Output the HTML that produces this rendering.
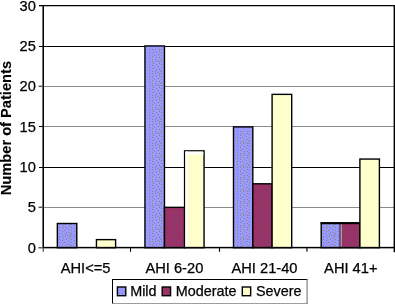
<!DOCTYPE html>
<html><head><meta charset="utf-8"><title>Chart</title>
<style>html,body{margin:0;padding:0;background:#fff;}body{width:395px;height:304px;overflow:hidden;}svg{display:block;}text{font-family:"Liberation Sans",Arial,sans-serif;font-size:14px;fill:#000;stroke:#000;stroke-width:0.25px;}.ax{font-size:14.67px;}.lg{font-size:14.4px;}.ti{font-size:14.67px;font-weight:bold;stroke-width:0.1px;}</style>
</head><body>
<svg width="395" height="304" viewBox="0 0 395 304">
<defs>
<g id="dt"><rect x="0" y="0" width="1" height="1"/><rect x="3" y="0" width="1" height="1"/><rect x="6" y="0" width="1" height="1"/><rect x="10" y="0" width="1" height="1"/><rect x="4" y="2" width="1" height="1"/><rect x="10" y="2" width="1" height="1"/><rect x="0" y="3" width="1" height="1"/><rect x="7" y="3" width="1" height="1"/><rect x="3" y="4" width="1" height="1"/><rect x="9" y="5" width="1" height="1"/><rect x="0" y="6" width="1" height="1"/><rect x="5" y="6" width="1" height="1"/><rect x="3" y="7" width="1" height="1"/><rect x="7" y="8" width="1" height="1"/><rect x="10" y="8" width="1" height="1"/><rect x="0" y="9" width="1" height="1"/><rect x="3" y="10" width="1" height="1"/><rect x="11" y="10" width="1" height="1"/><rect x="6" y="10" width="1" height="1"/><rect x="8" y="11" width="1" height="1"/></g>
<g id="mt"><rect x="2" y="1" width="1" height="1"/><rect x="8" y="3" width="1" height="1"/><rect x="5" y="5" width="1" height="1"/><rect x="11" y="6" width="1" height="1"/><rect x="1" y="8" width="1" height="1"/><rect x="7" y="10" width="1" height="1"/><rect x="4" y="11" width="1" height="1"/><rect x="10" y="0" width="1" height="1"/></g>
</defs>
<rect width="395" height="304" fill="#fff"/>
<line x1="43.25" y1="5.65" x2="394.3" y2="5.65" stroke="#000" stroke-width="1.3"/>
<line x1="43.25" y1="46.5" x2="394.3" y2="46.5" stroke="#000" stroke-width="1.05"/>
<line x1="43.25" y1="86.5" x2="394.3" y2="86.5" stroke="#8c8c8c" stroke-width="1.0"/>
<line x1="43.25" y1="126.5" x2="394.3" y2="126.5" stroke="#8c8c8c" stroke-width="1.0"/>
<line x1="43.25" y1="167.5" x2="394.3" y2="167.5" stroke="#000" stroke-width="1.05"/>
<line x1="43.25" y1="207.5" x2="394.3" y2="207.5" stroke="#8c8c8c" stroke-width="1.0"/>
<rect x="57.35" y="223.49" width="19.45" height="24.21" fill="#9999ff"/>
<pattern id="p1" x="59" y="224" width="12" height="12" patternUnits="userSpaceOnUse"><use href="#dt" fill="#84846c"/></pattern>
<rect x="59" y="224" width="16.60" height="22.70" fill="url(#p1)"/>
<rect x="57.35" y="223.49" width="19.45" height="24.21" fill="none" stroke="#000" stroke-width="1.4"/>
<rect x="96.45" y="239.63" width="19.15" height="8.07" fill="#ffffcc"/>
<rect x="96.45" y="239.63" width="19.15" height="8.07" fill="none" stroke="#000" stroke-width="1.4"/>
<rect x="144.95" y="45.95" width="19.50" height="201.75" fill="#9999ff"/>
<pattern id="p2" x="149" y="49" width="12" height="12" patternUnits="userSpaceOnUse"><use href="#dt" fill="#84846c"/></pattern>
<rect x="149" y="49" width="14.25" height="197.70" fill="url(#p2)"/>
<rect x="144.95" y="45.95" width="19.50" height="201.75" fill="none" stroke="#000" stroke-width="1.4"/>
<rect x="164.45" y="207.35" width="20.15" height="40.35" fill="#993366"/>
<pattern id="p3" x="167" y="211" width="12" height="12" patternUnits="userSpaceOnUse"><use href="#mt" fill="#5f52a0"/></pattern>
<rect x="167" y="211" width="16.10" height="35.70" fill="url(#p3)"/>
<rect x="164.45" y="207.35" width="20.15" height="40.35" fill="none" stroke="#000" stroke-width="1.4"/>
<rect x="184.60" y="150.86" width="19.45" height="96.84" fill="#ffffcc"/>
<rect x="184.60" y="150.86" width="19.45" height="96.84" fill="none" stroke="#000" stroke-width="1.4"/>
<rect x="233.50" y="126.90" width="19.30" height="120.80" fill="#9999ff"/>
<pattern id="p4" x="237" y="131" width="12" height="12" patternUnits="userSpaceOnUse"><use href="#dt" fill="#84846c"/></pattern>
<rect x="237" y="131" width="14.60" height="115.70" fill="url(#p4)"/>
<rect x="233.50" y="126.90" width="19.30" height="120.80" fill="none" stroke="#000" stroke-width="1.4"/>
<rect x="252.80" y="183.80" width="19.30" height="63.90" fill="#993366"/>
<pattern id="p5" x="256" y="188" width="12" height="12" patternUnits="userSpaceOnUse"><use href="#mt" fill="#5f52a0"/></pattern>
<rect x="256" y="188" width="14.60" height="58.70" fill="url(#p5)"/>
<rect x="252.80" y="183.80" width="19.30" height="63.90" fill="none" stroke="#000" stroke-width="1.4"/>
<rect x="272.10" y="94.37" width="19.60" height="153.33" fill="#ffffcc"/>
<rect x="272.10" y="94.37" width="19.60" height="153.33" fill="none" stroke="#000" stroke-width="1.4"/>
<rect x="321.20" y="223.00" width="19.25" height="24.70" fill="#9999ff"/>
<pattern id="p6" x="323" y="224" width="12" height="12" patternUnits="userSpaceOnUse"><use href="#dt" fill="#84846c"/></pattern>
<rect x="323" y="224" width="16.25" height="22.70" fill="url(#p6)"/>
<rect x="321.20" y="223.00" width="19.25" height="24.70" fill="none" stroke="#000" stroke-width="1.4"/>
<rect x="320.60" y="222.20" width="20.45" height="2.0" fill="#000"/>
<rect x="340.45" y="223.00" width="19.45" height="24.70" fill="#993366"/>
<pattern id="p7" x="343" y="227" width="12" height="12" patternUnits="userSpaceOnUse"><use href="#mt" fill="#5f52a0"/></pattern>
<rect x="343" y="227" width="15.40" height="19.70" fill="url(#p7)"/>
<rect x="340.45" y="223.00" width="19.45" height="24.70" fill="none" stroke="#000" stroke-width="1.4"/>
<rect x="339.85" y="222.20" width="20.65" height="2.0" fill="#000"/>
<rect x="359.90" y="159.05" width="19.50" height="88.65" fill="#ffffcc"/>
<rect x="359.90" y="159.05" width="19.50" height="88.65" fill="none" stroke="#000" stroke-width="1.4"/>
<rect x="340.55" y="224.3" width="1.0" height="22.5" fill="#eadff0"/>
<rect x="185.3" y="151.56" width="2.4" height="95.44" fill="#fff"/>
<rect x="185.3" y="151.56" width="18.0" height="3.1" fill="#fff"/>
<rect x="42.45" y="5" width="1.55" height="243.3" fill="#000"/>
<rect x="42.6" y="248.3" width="1.4" height="3.5" fill="#666"/>
<rect x="393.6" y="5" width="1.4" height="247.2" fill="#000"/>
<rect x="43.25" y="246.85" width="351.75" height="1.5" fill="#000"/>
<line x1="39" y1="5.65" x2="43.25" y2="5.65" stroke="#000" stroke-width="1.3"/>
<text class="ax" x="35.9" y="10.5" text-anchor="end">30</text>
<line x1="39" y1="46.5" x2="43.25" y2="46.5" stroke="#000" stroke-width="1.05"/>
<text class="ax" x="35.9" y="50.8" text-anchor="end">25</text>
<line x1="38.6" y1="86.3" x2="43.25" y2="86.3" stroke="#5a5a5a" stroke-width="1.5"/>
<text class="ax" x="35.9" y="90.8" text-anchor="end">20</text>
<line x1="39" y1="126.5" x2="43.25" y2="126.5" stroke="#000" stroke-width="1.05"/>
<text class="ax" x="35.9" y="131.5" text-anchor="end">15</text>
<line x1="39" y1="167.5" x2="43.25" y2="167.5" stroke="#000" stroke-width="1.05"/>
<text class="ax" x="35.9" y="171.9" text-anchor="end">10</text>
<line x1="38.6" y1="207.3" x2="43.25" y2="207.3" stroke="#5a5a5a" stroke-width="1.5"/>
<text class="ax" x="35.9" y="211.9" text-anchor="end">5</text>
<line x1="38.4" y1="247.75" x2="43.25" y2="247.75" stroke="#5a5a5a" stroke-width="1.4"/>
<text class="ax" x="35.9" y="252.6" text-anchor="end">0</text>
<line x1="130.5" y1="247.7" x2="130.5" y2="251.8" stroke="#000" stroke-width="1.1"/>
<line x1="219.5" y1="247.7" x2="219.5" y2="251.8" stroke="#000" stroke-width="1.1"/>
<line x1="306.95" y1="247.7" x2="306.95" y2="251.8" stroke="#000" stroke-width="1.1"/>
<text class="ax" x="85.6" y="272.6" text-anchor="middle">AHI&lt;=5</text>
<text class="ax" x="174.4" y="272.6" text-anchor="middle">AHI 6-20</text>
<text class="ax" x="264.5" y="272.6" text-anchor="middle">AHI 21-40</text>
<text class="ax" x="350.8" y="272.6" text-anchor="middle">AHI 41+</text>
<text class="ti" transform="translate(10.5,128.1) rotate(-90)" text-anchor="middle">Number of Patients</text>
<rect x="112" y="279" width="195.5" height="25" fill="#fff"/>
<line x1="112" y1="279.5" x2="307.6" y2="279.5" stroke="#000" stroke-width="1"/>
<line x1="112.5" y1="279" x2="112.5" y2="304" stroke="#000" stroke-width="1"/>
<line x1="307.1" y1="279" x2="307.1" y2="304" stroke="#777" stroke-width="1.1"/>
<line x1="112" y1="303.6" x2="307.6" y2="303.6" stroke="#888" stroke-width="0.9"/>
<rect x="117.4" y="287" width="8.35" height="8.7" fill="#9999ff" stroke="#000" stroke-width="1.4"/>
<g fill="#84846c"><rect x="122" y="289" width="1" height="1"/><rect x="119" y="293" width="1" height="1"/><rect x="122" y="293" width="1" height="1"/><rect x="124" y="291" width="1" height="1"/></g>
<text class="lg" x="130.2" y="296">Mild</text>
<rect x="162.2" y="287" width="8.35" height="8.7" fill="#993366" stroke="#000" stroke-width="1.4"/>
<text class="lg" x="175.7" y="296">Moderate</text>
<rect x="242.3" y="287" width="8.35" height="8.7" fill="#ffffcc" stroke="#000" stroke-width="1.4"/>
<text class="lg" x="255.9" y="296">Severe</text>
</svg></body></html>
